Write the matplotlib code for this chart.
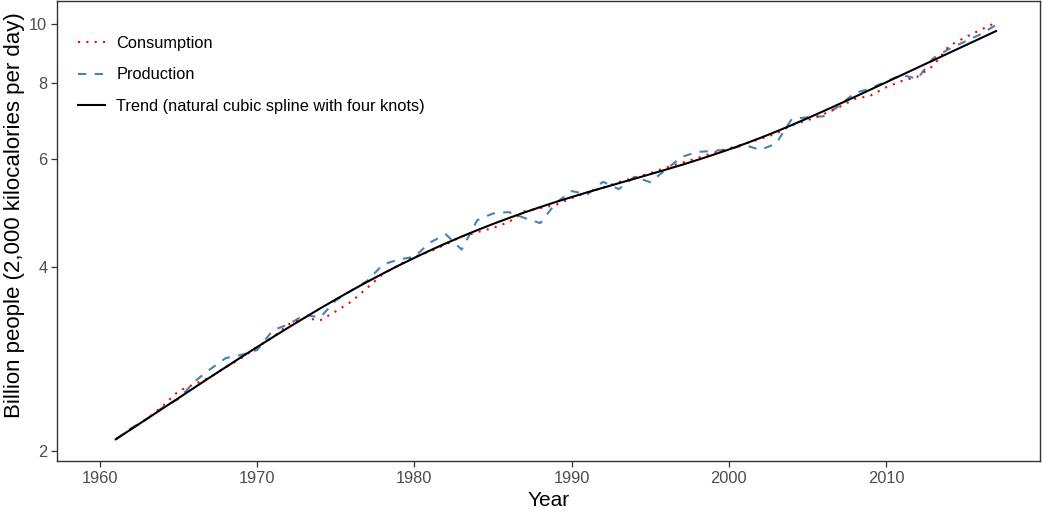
import matplotlib
matplotlib.use("Agg")
import matplotlib.pyplot as plt
from matplotlib.ticker import FixedLocator, NullLocator, FixedFormatter

plt.rcParams['font.family'] = ['Liberation Sans', 'DejaVu Sans']

years = list(range(1961, 2018))

consumption = [
    2.090, 2.173, 2.259, 2.371, 2.507, 2.573, 2.640, 2.743, 2.839, 2.959,
    3.071, 3.222, 3.302, 3.270, 3.384, 3.512, 3.698, 3.895, 4.030, 4.156,
    4.241, 4.355, 4.484, 4.561, 4.632, 4.736, 4.930, 4.992, 5.052, 5.184,
    5.298, 5.390, 5.504, 5.597, 5.694, 5.815, 5.919, 6.029, 6.147, 6.249,
    6.358, 6.477, 6.607, 6.824, 6.948, 7.107, 7.299, 7.529, 7.623, 7.866,
    8.056, 8.189, 8.529, 9.190, 9.484, 9.766, 10.040,
]

production = [
    2.090, 2.181, 2.259, 2.358, 2.433, 2.597, 2.721, 2.838, 2.872, 2.926,
    3.153, 3.222, 3.340, 3.307, 3.527, 3.661, 3.796, 4.037, 4.114, 4.156,
    4.387, 4.523, 4.270, 4.771, 4.893, 4.918, 4.810, 4.718, 5.090, 5.323,
    5.258, 5.513, 5.361, 5.618, 5.504, 5.771, 6.054, 6.167, 6.194, 6.225,
    6.334, 6.215, 6.363, 6.980, 7.028, 7.053, 7.327, 7.701, 7.827, 8.046,
    8.240, 8.127, 8.774, 9.087, 9.342, 9.603, 9.947,
]

trend = [
    2.090, 2.173, 2.259, 2.349, 2.442, 2.539, 2.640, 2.743, 2.850, 2.959,
    3.071, 3.186, 3.302, 3.421, 3.540, 3.661, 3.782, 3.902, 4.022, 4.140,
    4.257, 4.372, 4.484, 4.595, 4.703, 4.808, 4.911, 5.011, 5.109, 5.204,
    5.298, 5.390, 5.483, 5.576, 5.672, 5.771, 5.874, 5.984, 6.101, 6.225,
    6.358, 6.502, 6.657, 6.824, 7.001, 7.187, 7.382, 7.586, 7.797, 8.016,
    8.240, 8.471, 8.708, 8.951, 9.202, 9.459, 9.724,
]

y_ticks = [2, 4, 6, 8, 10]
y_tick_labels = ["2", "4", "6", "8", "10"]
x_ticks = [1960, 1970, 1980, 1990, 2000, 2010]
x_tick_labels = ["1960", "1970", "1980", "1990", "2000", "2010"]

labels = ["Consumption", "Production", "Trend (natural cubic spline with four knots)"]

fig = plt.figure(figsize=(10.42, 5.09), dpi=100)
ax = fig.add_axes([57 / 1042, 1 - 461 / 509, 983 / 1042, 460 / 509])

ax.plot(years, consumption, color="#FF0000", lw=1.5, linestyle=(0, (1, 3)),
        label=labels[0], zorder=3)
ax.plot(years, production, color="#4682B4", lw=1.5, linestyle=(0, (4, 4)),
        label=labels[1], zorder=2)
ax.plot(years, trend, color="#000000", lw=1.5, label=labels[2], zorder=4)

ax.set_yscale("log")
ax.set_ylim(1.926, 10.89)
ax.set_xlim(1957.26, 2019.80)
ax.yaxis.set_major_locator(FixedLocator(y_ticks))
ax.yaxis.set_major_formatter(FixedFormatter(y_tick_labels))
ax.yaxis.set_minor_locator(NullLocator())
ax.set_xticks(x_ticks)
ax.set_xticklabels(x_tick_labels)

for s in ax.spines.values():
    s.set_color("#333333")
    s.set_linewidth(1.0)

ax.tick_params(axis="both", colors="#333333", length=4, width=0.9,
               labelsize=11.8, labelcolor="#4D4D4D", pad=3)

ax.set_xlabel("Year", fontsize=15, color="#000000", labelpad=4)
ax.set_ylabel("Billion people (2,000 kilocalories per day)", fontsize=16,
              color="#000000")
ax.yaxis.set_label_coords(-0.0326, 0.535)

leg = ax.legend(loc="upper left", bbox_to_anchor=(0.006, 0.956), frameon=False,
                fontsize=11.8, handlelength=1.65, handletextpad=0.72,
                labelspacing=1.0)

fig.savefig("out.png", dpi=100)
